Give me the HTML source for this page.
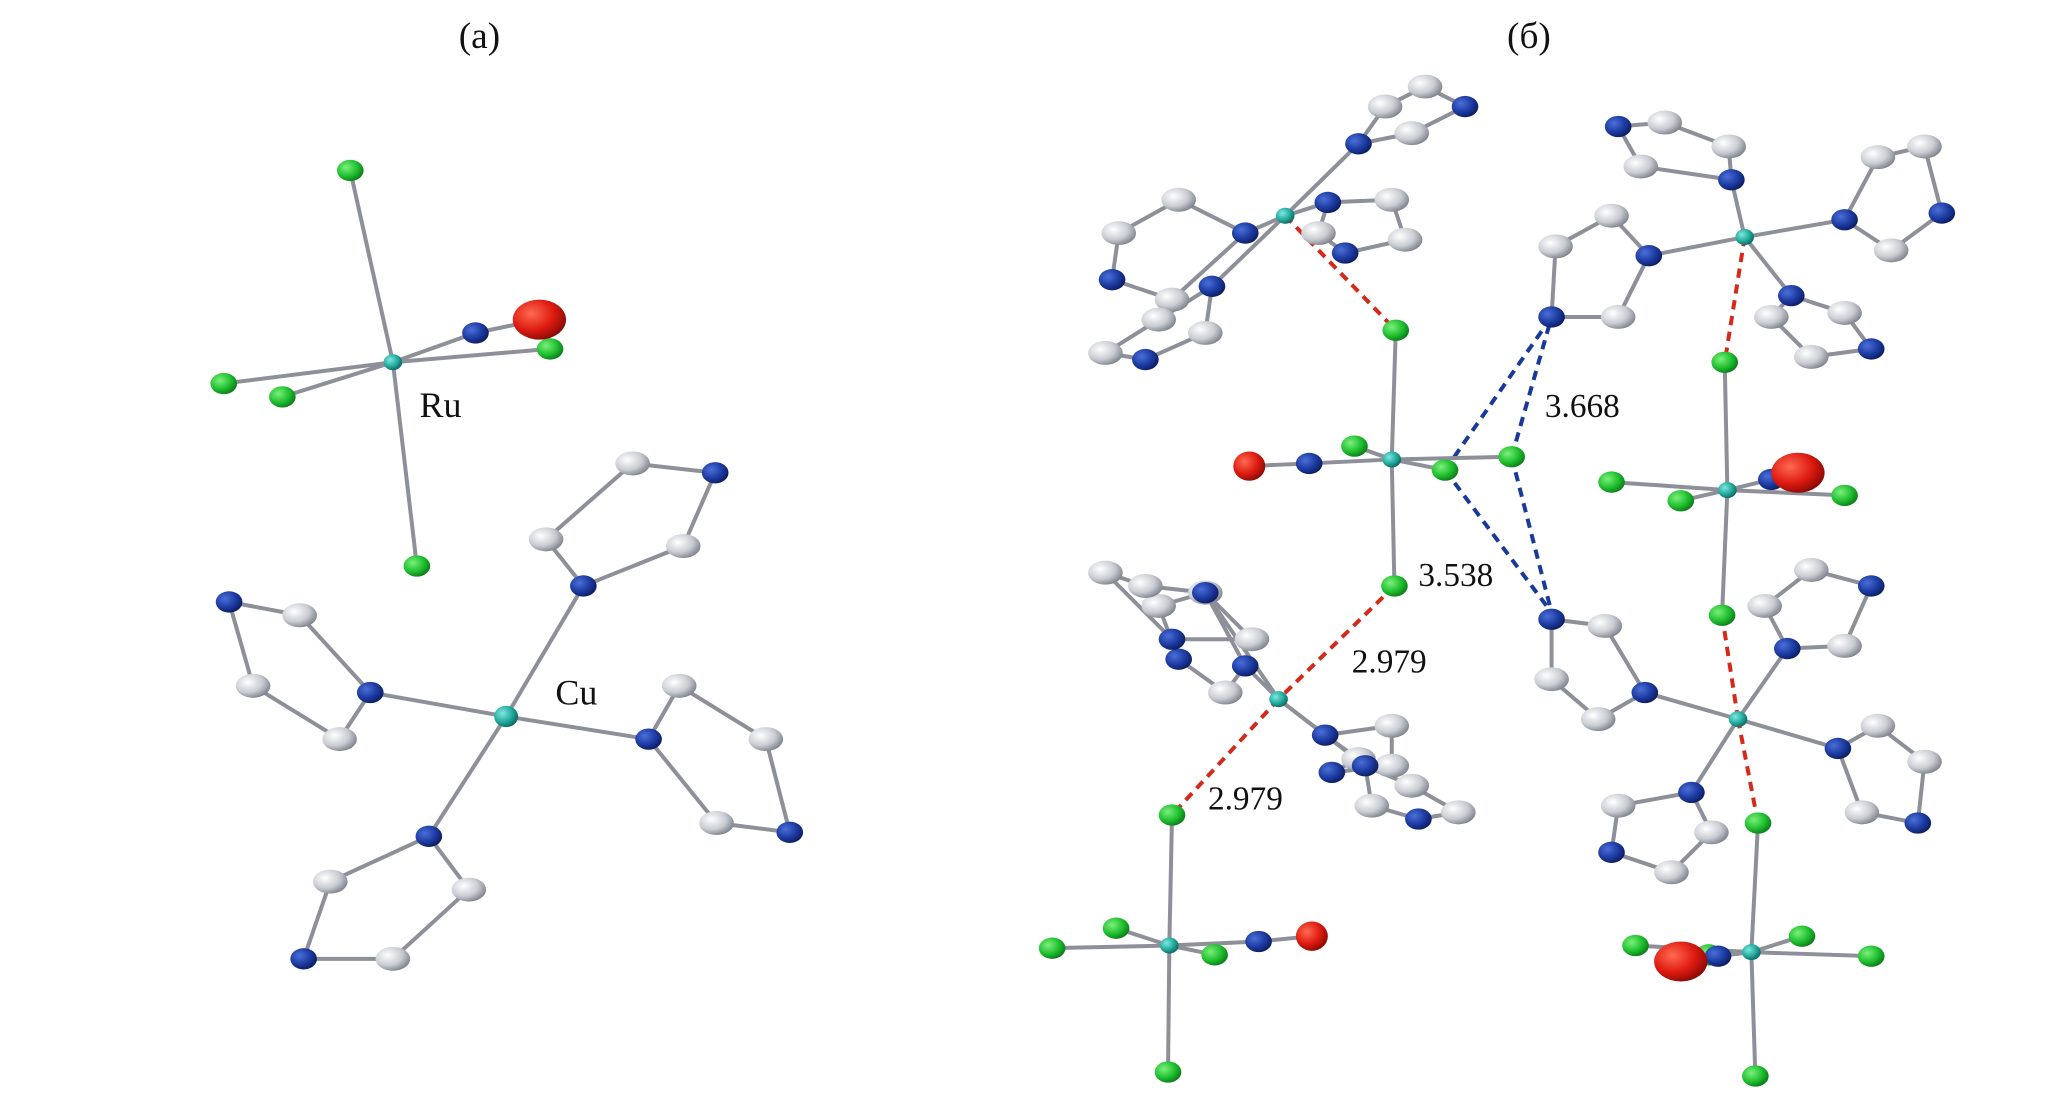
<!DOCTYPE html>
<html><head><meta charset="utf-8"><style>
html,body{margin:0;padding:0;background:#fff}
svg{display:block}
text{font-family:"Liberation Serif",serif;fill:#111}
</style></head><body>
<svg id="s" width="2067" height="1096" viewBox="0 0 1552 823" preserveAspectRatio="none" xmlns="http://www.w3.org/2000/svg">
<defs>
<radialGradient id="gC" cx="35%" cy="35%" r="70%"><stop offset="0" stop-color="#ffffff"/><stop offset="0.6" stop-color="#c9ccd2"/><stop offset="1" stop-color="#7d828c"/></radialGradient>
<radialGradient id="gN" cx="35%" cy="35%" r="70%"><stop offset="0" stop-color="#4a6fd8"/><stop offset="0.6" stop-color="#1c3aa0"/><stop offset="1" stop-color="#0c1c60"/></radialGradient>
<radialGradient id="gCl" cx="35%" cy="35%" r="70%"><stop offset="0" stop-color="#7cf07c"/><stop offset="0.6" stop-color="#1fbf2f"/><stop offset="1" stop-color="#0b7a18"/></radialGradient>
<radialGradient id="gO" cx="35%" cy="35%" r="70%"><stop offset="0" stop-color="#ff6a50"/><stop offset="0.6" stop-color="#dd1a10"/><stop offset="1" stop-color="#8a0a05"/></radialGradient>
<radialGradient id="gM" cx="35%" cy="35%" r="70%"><stop offset="0" stop-color="#7fe8e0"/><stop offset="0.6" stop-color="#21a89c"/><stop offset="1" stop-color="#0c6660"/></radialGradient>
</defs>
<g id="dash"></g>
<g id="bonds" stroke="#8d9098" stroke-width="3" stroke-linecap="round"></g>
<g id="atoms"></g>
<text x="360" y="36" font-size="28" text-anchor="middle">(a)</text>
<text x="1148" y="36" font-size="28" text-anchor="middle">(б)</text>
<text x="315" y="313" font-size="27">Ru</text>
<text x="417" y="529" font-size="27">Cu</text>
<text x="1160" y="313" font-size="25">3.668</text>
<text x="1065" y="440" font-size="25">3.538</text>
<text x="1015" y="505" font-size="25">2.979</text>
<text x="907" y="608" font-size="25">2.979</text>
</svg>
<script>
var NS="http://www.w3.org/2000/svg";
var B=document.getElementById('bonds'),A=document.getElementById('atoms'),D=document.getElementById('dash');
function ln(g,a,b,attrs){var l=document.createElementNS(NS,'line');l.setAttribute('x1',a[0]);l.setAttribute('y1',a[1]);l.setAttribute('x2',b[0]);l.setAttribute('y2',b[1]);for(var k in attrs)l.setAttribute(k,attrs[k]);g.appendChild(l);}
var R={C:[13,9],N:[10,8],Cl:[10,8],O:[15,12],M:[7,6]};
var G={C:'gC',N:'gN',Cl:'gCl',O:'gO',M:'gM'};
function at(p,t,rx,ry){var e=document.createElementNS(NS,'ellipse');e.setAttribute('cx',p[0]);e.setAttribute('cy',p[1]);e.setAttribute('rx',rx||R[t][0]);e.setAttribute('ry',ry||R[t][1]);e.setAttribute('fill','url(#'+G[t]+')');A.appendChild(e);}
function bond(a,b){ln(B,a,b,{});}
function dash(a,b,c){ln(D,a,b,{stroke:c,'stroke-width':3,'stroke-dasharray':'7 5'});}
function ring(cu,pts){
 bond(cu,pts[0]);for(var i=0;i<5;i++)bond(pts[i],pts[(i+1)%5]);
 for(var i=0;i<5;i++)at(pts[i],i==0||i==3?'N':'C');}
function ru(c,cls,n,o,big){cls.forEach(function(p){bond(c,p)});bond(c,n);bond(n,o);
 cls.forEach(function(p){at(p,'Cl')});at(n,'N');at(o,'O',big?20:12,big?15:11);at(c,'M');}
function cu(c,rings){rings.forEach(function(r){ring(c,r)});}
var Ru=[295,272];
ru(Ru,[[263,128],[313,425],[168,288],[212,298],[413,262]],[357,250],[405,240],true);
var Cu=[380,538];
cu(Cu,[
 [[438,440],[410,405],[475,348],[537,355],[513,410]],
 [[278,520],[255,555],[190,515],[172,452],[225,462]],
 [[487,555],[510,515],[575,555],[593,625],[538,618]],
 [[322,628],[352,668],[295,720],[228,720],[248,662]]]);
at(Cu,'M',9,8);
dash([965,162],[1048,248],'#d42a1a');dash([1047,440],[960,525],'#d42a1a');dash([960,525],[880,612],'#d42a1a');
dash([1310,178],[1295,272],'#d42a1a');dash([1293,462],[1305,540],'#d42a1a');dash([1305,540],[1320,618],'#d42a1a');
dash([1085,353],[1165,238],'#1a3a9a');dash([1135,343],[1165,238],'#1a3a9a');dash([1085,353],[1165,460],'#1a3a9a');dash([1135,343],[1165,460],'#1a3a9a');
ru([1045,345],[[1048,248],[1047,440],[1017,335],[1085,353],[1135,343]],[983,348],[938,350]);
ru([878,710],[[880,612],[877,805],[790,712],[838,697],[912,717]],[945,707],[985,703]);
ru([1297,368],[[1295,272],[1293,462],[1210,362],[1262,376],[1385,372]],[1330,360],[1350,355],true);
ru([1315,715],[[1320,618],[1318,808],[1228,710],[1283,717],[1353,703],[1405,718]],[1290,718],[1262,722],true);
cu([1310,178],[
 [[1238,192],[1210,162],[1168,185],[1165,238],[1215,238]],
 [[1300,135],[1298,110],[1250,92],[1215,95],[1232,125]],
 [[1385,165],[1410,118],[1445,110],[1458,160],[1420,188]],
 [[1345,222],[1330,238],[1360,268],[1405,262],[1385,235]]]);
cu([1305,540],[
 [[1235,520],[1200,540],[1165,510],[1165,465],[1205,470]],
 [[1342,487],[1325,455],[1360,428],[1405,440],[1385,485]],
 [[1380,562],[1410,545],[1445,572],[1440,618],[1398,610]],
 [[1270,595],[1285,625],[1255,655],[1210,640],[1215,605]]]);
cu([965,162],[
 [[935,175],[885,150],[840,175],[835,210],[880,225]],
 [[997,152],[1045,150],[1055,180],[1010,190],[990,175]],
 [[1020,108],[1040,80],[1070,65],[1100,80],[1060,100]],
 [[910,215],[870,240],[830,265],[860,270],[905,250]]]);
cu([960,525],[
 [[935,500],[905,445],[870,455],[885,495],[920,520]],
 [[995,552],[1045,545],[1045,575],[1000,580],[1020,570]],
 [[1025,575],[1060,590],[1095,610],[1065,615],[1030,605]],
 [[905,445],[860,440],[830,430],[880,480],[940,480]]]);
[[1310,178],[1305,540],[965,162],[960,525]].forEach(function(p){at(p,'M')});
</script>
</body></html>
